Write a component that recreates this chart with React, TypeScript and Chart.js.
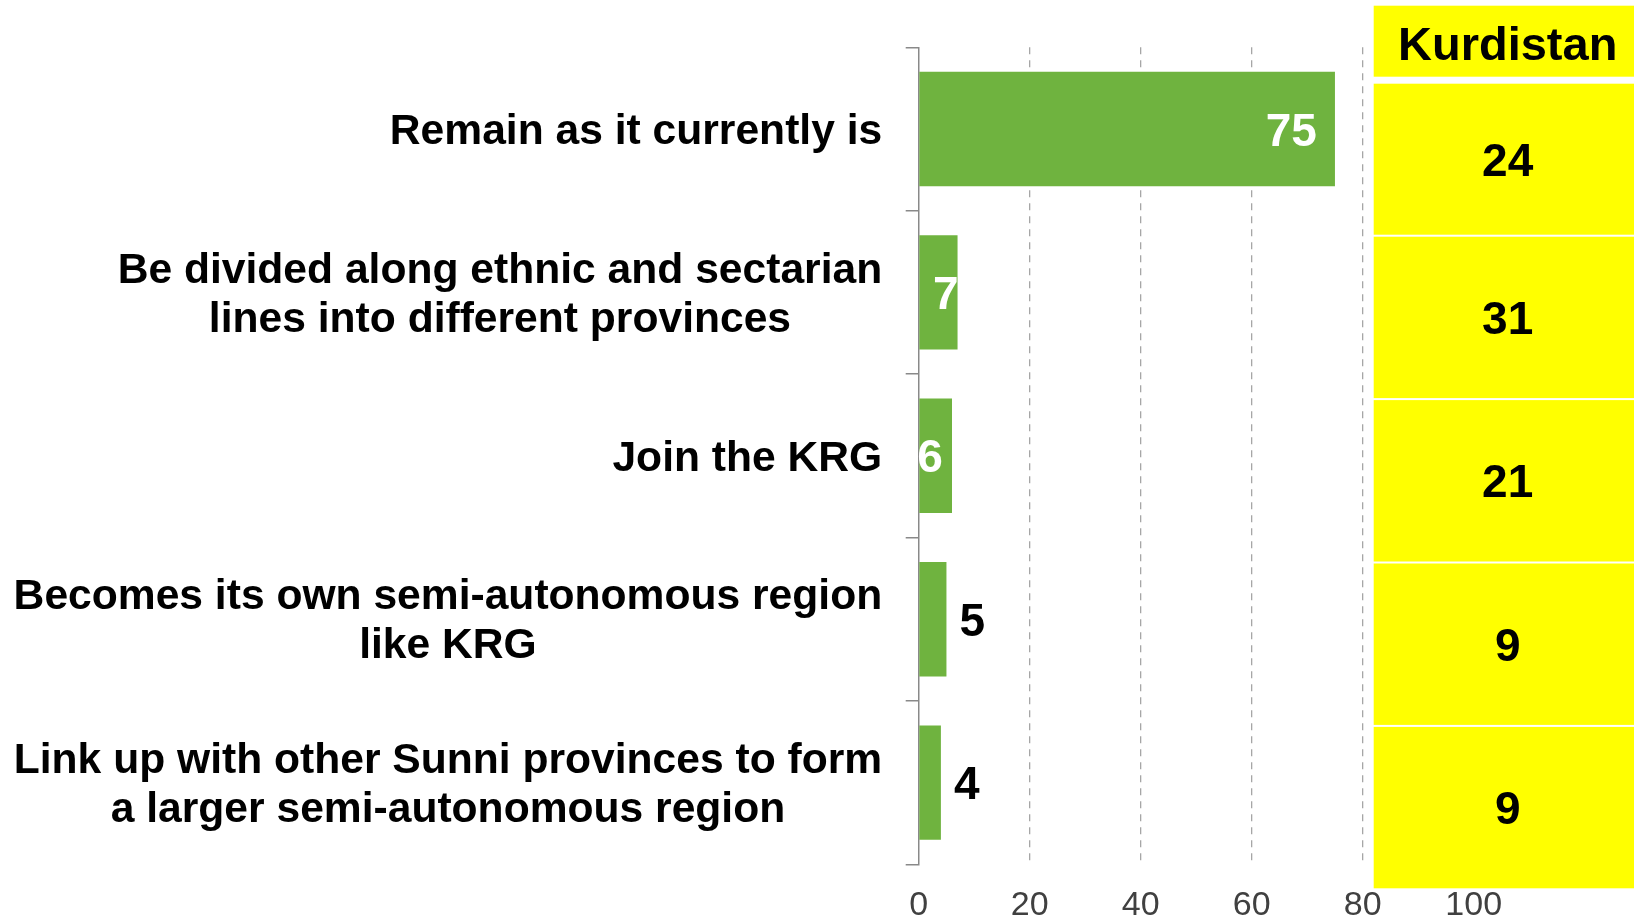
import React, { useEffect, useRef } from 'react';
import { Chart, registerables } from 'chart.js';

Chart.register(...registerables);

// ---- data ----
const categories: string[][] = [
  ['Remain as it currently is'],
  ['Be divided along ethnic and sectarian', 'lines into different provinces'],
  ['Join the KRG'],
  ['Becomes its own semi-autonomous region', 'like KRG'],
  ['Link up with other Sunni provinces to form', 'a larger semi-autonomous region'],
];
const values: number[] = [75, 7, 6, 5, 4];
const kurdistanHeader = 'Kurdistan';
const kurdistanValues: number[] = [24, 31, 21, 9, 9];
const xTickValues: number[] = [0, 20, 40, 60, 80, 100];
// where each bar's value label sits
const labelPlacement: string[] = ['inside', 'edge', 'start', 'outside', 'outside'];

const FONT = '"Liberation Sans", Arial, Helvetica, sans-serif';
const BAR_GREEN = '#6fb33f';
const YELLOW = '#ffff00';
const TEXT_DY = 3;

const overlayPlugin = {
  id: 'overlay',
  afterDatasetsDraw(chart: any) {
    const ctx: CanvasRenderingContext2D = chart.ctx;
    const meta = chart.getDatasetMeta(0);
    const yScale = chart.scales.y;
    const xScale = chart.scales.x;
    const area = chart.chartArea;
    ctx.save();

    // bar value labels
    ctx.font = `bold 46px ${FONT}`;
    ctx.textBaseline = 'middle';
    ctx.textAlign = 'left';
    meta.data.forEach((bar: any, i: number) => {
      const txt = String(values[i]);
      const w = ctx.measureText(txt).width;
      const end = bar.x;
      const start = bar.base;
      const cy = bar.y + 1 + TEXT_DY;
      let left: number;
      let color = '#ffffff';
      switch (labelPlacement[i]) {
        case 'inside':
          left = end - 18 - w;
          break;
        case 'edge':
          left = end + 1 - w;
          break;
        case 'start':
          left = start - 2;
          break;
        default:
          left = end + 13;
          color = '#000000';
      }
      ctx.fillStyle = color;
      ctx.fillText(txt, left, cy);
    });

    // category labels (block right-aligned, lines centred)
    ctx.font = `bold 42.6px ${FONT}`;
    ctx.fillStyle = '#000000';
    ctx.textAlign = 'center';
    const rightEdge = area.left - 36.5;
    const lh = 49;
    categories.forEach((lines, i) => {
      const cy = yScale.getPixelForValue(i) + TEXT_DY;
      const maxW = Math.max(...lines.map((l) => ctx.measureText(l).width));
      const cx = rightEdge - maxW / 2;
      lines.forEach((l, j) => {
        ctx.fillText(l, cx, cy + (j - (lines.length - 1) / 2) * lh);
      });
    });

    // Kurdistan panel
    const panelLeft = xScale.getPixelForValue(80) + 11;
    const panelRight = chart.width;
    const textX = panelLeft + 134;
    const band = yScale.getPixelForValue(1) - yScale.getPixelForValue(0);
    const shift = 25;
    const headerTop = area.top - 41.6;
    const headerBottom = area.top + 29.4;
    ctx.fillStyle = YELLOW;
    ctx.fillRect(panelLeft, headerTop, panelRight - panelLeft, headerBottom - headerTop);
    ctx.fillStyle = '#000000';
    ctx.font = `bold 47px ${FONT}`;
    ctx.fillText(kurdistanHeader, textX, (headerTop + headerBottom) / 2 + 3 + TEXT_DY);

    ctx.font = `bold 46px ${FONT}`;
    kurdistanValues.forEach((v, i) => {
      const c = yScale.getPixelForValue(i);
      let top = c - band / 2 + shift + 1;
      const bottom = c + band / 2 + shift - 1;
      if (i === 0) top = headerBottom + 7;
      ctx.fillStyle = YELLOW;
      ctx.fillRect(panelLeft, top, panelRight - panelLeft, bottom - top);
      ctx.fillStyle = '#000000';
      ctx.fillText(String(v), textX, (top + bottom) / 2 + 1 + TEXT_DY);
    });

    ctx.restore();
  },
};

export default function App() {
  const canvasRef = useRef<HTMLCanvasElement | null>(null);

  useEffect(() => {
    if (!canvasRef.current) return;
    const chart = new Chart(canvasRef.current, {
      type: 'bar',
      data: {
        labels: categories.map((c) => c.join(' ')),
        datasets: [
          {
            data: values,
            backgroundColor: BAR_GREEN,
            borderWidth: 0,
            barPercentage: 0.7,
            categoryPercentage: 1.0,
          },
        ],
      },
      options: {
        indexAxis: 'y',
        animation: false,
        responsive: true,
        maintainAspectRatio: false,
        layout: {
          padding: { top: 47.3, right: 160.3, left: 0, bottom: 0 },
        },
        plugins: {
          legend: { display: false },
          tooltip: { enabled: false },
        },
        scales: {
          x: {
            type: 'linear',
            min: 0,
            max: 100,
            afterBuildTicks: (s: any) => {
              s.ticks = xTickValues.map((v) => ({ value: v }));
            },
            afterFit: (s: any) => {
              s.height = 53.7;
            },
            grid: {
              drawTicks: false,
              color: (c: any) =>
                c.tick && (c.tick.value === 0 || c.tick.value === 100) ? 'rgba(0,0,0,0)' : '#a6a6a6',
              lineWidth: 1.3,
            },
            border: { display: false, dash: [7, 6] },
            ticks: {
              color: '#404040',
              padding: 21,
              font: { family: FONT, size: 34 },
            },
          },
          y: {
            type: 'category',
            offset: true,
            afterFit: (s: any) => {
              s.width = 918.7;
            },
            grid: {
              offset: true,
              drawOnChartArea: false,
              drawTicks: true,
              tickLength: 13,
              color: '#898989',
              lineWidth: 1.5,
            },
            border: { display: true, color: '#898989', width: 1.5 },
            ticks: { display: false },
          },
        },
      },
      plugins: [overlayPlugin],
    });
    return () => chart.destroy();
  }, []);

  return (
    <div style={{ position: 'absolute', left: 0, top: 0, width: '1634px', height: '918px', background: '#ffffff' }}>
      <canvas ref={canvasRef} />
    </div>
  );
}
